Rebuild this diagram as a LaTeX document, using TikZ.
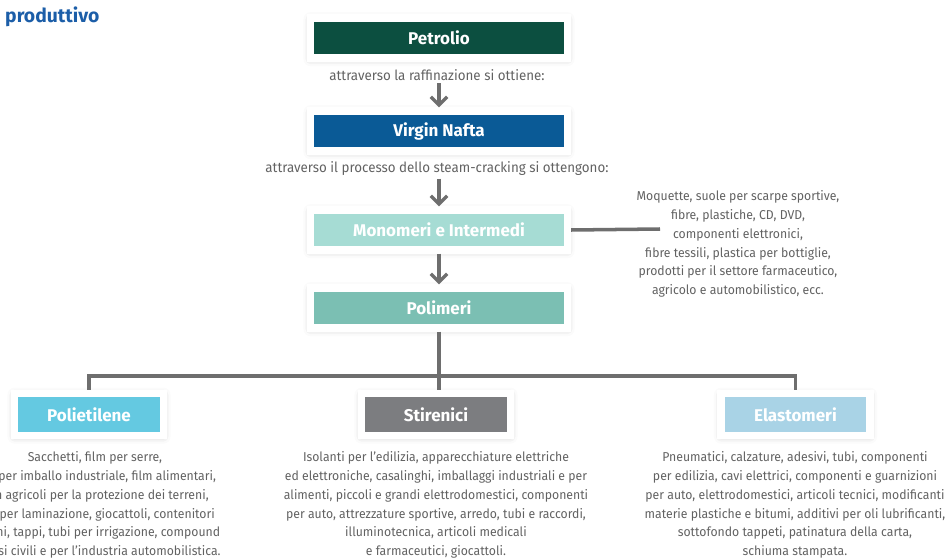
\documentclass[tikz,border=0pt]{standalone}
\usepackage{fontspec}
\setmainfont{Fira Sans}
\newfontfamily\bodyfont[FakeStretch=0.95]{Fira Sans}
\newfontfamily\labelfont{Fira Sans}
\usetikzlibrary{arrows.meta,shadows.blur}

\definecolor{petrolio}{HTML}{0C4F40}
\definecolor{nafta}{HTML}{0A5A96}
\definecolor{mono}{HTML}{A6DCD4}
\definecolor{poli}{HTML}{7BBFB3}
\definecolor{pe}{HTML}{64C9E1}
\definecolor{sti}{HTML}{7C7D80}
\definecolor{ela}{HTML}{A9D3E6}
\definecolor{linegray}{HTML}{6E6E6E}
\definecolor{textgray}{HTML}{626262}
\definecolor{titleblue}{HTML}{1C5EA8}

\tikzstyle{box}=[rectangle, draw=white, line width=6pt, inner sep=0, text=white,
  font=\labelfont\bfseries\fontsize{14.5}{17}\selectfont,
  blur shadow={shadow xshift=0pt, shadow yshift=-1pt, shadow blur radius=6pt, shadow opacity=25}]
\tikzstyle{topbox}=[box, minimum width=7.71cm, minimum height=1.2cm]
\tikzstyle{lowbox}=[box, minimum width=4.47cm, minimum height=1.26cm]
\tikzstyle{note}=[inner sep=2pt, text=textgray, font=\bodyfont\fontsize{12}{16.1}\selectfont]
\tikzstyle{desc}=[note, inner sep=0, align=center, font=\bodyfont\fontsize{11}{16.1}\selectfont]
\tikzstyle{conn}=[draw=linegray, line width=3pt]
\tikzstyle{arr}=[conn, -{Straight Barb[length=7pt,width=14pt]}]

\begin{document}
\begin{tikzpicture}[x=0.03cm, y=-0.03cm]
\clip (0,0) rectangle (948,559);

\node (title) [anchor=base west, inner sep=0, text=titleblue,
  font=\labelfont\bfseries\fontsize{16.5}{18}\selectfont] at (5,22) {produttivo};

% catena di lavorazione
\node (petrolio) [topbox, fill=petrolio] at (439,38) {Petrolio};
\node (raff) [note] at (437,75) {attraverso la raffinazione si ottiene:};
\node (nafta) [topbox, fill=nafta] at (439,131) {Virgin Nafta};
\node (steam) [note] at (437,169) {attraverso il processo dello steam-cracking si ottengono:};
\node (mono) [topbox, fill=mono] at (439,230) {Monomeri e Intermedi};
\node (poli) [topbox, fill=poli] at (439,308) {Polimeri};

\draw [arr] (raff.south -| nafta) -- (nafta);
\draw [arr] (steam.south -| mono) -- (mono);
\draw [arr] (mono) -- (poli);

% impieghi dei monomeri
\node (usimono) [desc] at (738,244) {Moquette, suole per scarpe sportive,\\
  fibre, plastiche, CD, DVD,\\
  componenti elettronici,\\
  fibre tessili, plastica per bottiglie,\\
  prodotti per il settore farmaceutico,\\
  agricolo e automobilistico, ecc.};
\coordinate (monolink) at (660,229);
\draw [conn] (mono.east) -- (monolink);

% famiglie di polimeri
\node (pe) [lowbox, fill=pe] at (89,414.5) {Polietilene};
\node (sti) [lowbox, fill=sti] at (436,414.5) {Stirenici};
\node (ela) [lowbox, fill=ela] at (795.5,414.5) {Elastomeri};

\coordinate (bus) at (439,376);
\draw [conn] (poli.south) -- (poli.south |- sti.north);
\draw [conn] (pe.north) |- (bus) -| (ela.north);

\node (usipe) [desc] at (95,505) {Sacchetti, film per serre,\\
  film per imballo industriale, film alimentari,\\
  film agricoli per la protezione dei terreni,\\
  film per laminazione, giocattoli, contenitori\\
  flaconi, tappi, tubi per irrigazione, compound\\
  per usi civili e per l’industria automobilistica.};
\node (usisti) [desc] at (436,505) {Isolanti per l’edilizia, apparecchiature elettriche\\
  ed elettroniche, casalinghi, imballaggi industriali e per\\
  alimenti, piccoli e grandi elettrodomestici, componenti\\
  per auto, attrezzature sportive, arredo, tubi e raccordi,\\
  illuminotecnica, articoli medicali\\
  e farmaceutici, giocattoli.};
\node (usiela) [desc] at (795,505) {Pneumatici, calzature, adesivi, tubi, componenti\\
  per edilizia, cavi elettrici, componenti e guarnizioni\\
  per auto, elettrodomestici, articoli tecnici, modificanti\\
  materie plastiche e bitumi, additivi per oli lubrificanti,\\
  sottofondo tappeti, patinatura della carta,\\
  schiuma stampata.};

\end{tikzpicture}
\end{document}
